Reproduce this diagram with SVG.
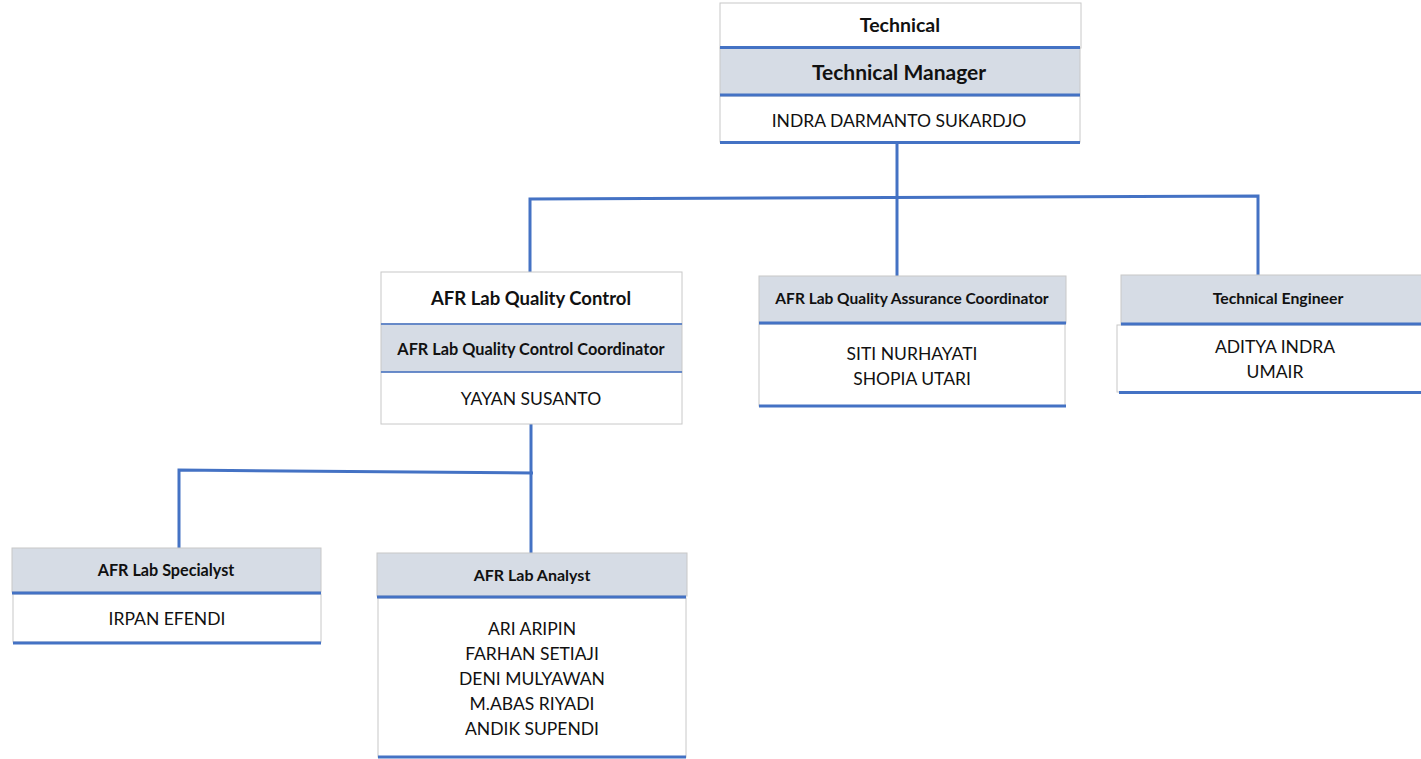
<svg xmlns="http://www.w3.org/2000/svg" width="1421" height="759" viewBox="0 0 1421 759">
<style>
.w{fill:#ffffff;stroke:#c8c8c8;stroke-width:1}
.g{fill:#d6dce5;stroke:#c8c8c8;stroke-width:1}
.bl{stroke:#4472c4;stroke-width:3;fill:none}
.bt{stroke:#4472c4;stroke-width:1.5;fill:none}
.c{stroke:#4472c4;stroke-width:3;fill:none}
text{font-family:Lato,"Open Sans","Liberation Sans",sans-serif;fill:#111;text-anchor:middle;dominant-baseline:central}
.n{font-size:17.5px}
.b{font-weight:bold}
</style>
<g id="connectors">
<path class="c" d="M897 143 V276"/>
<path class="c" d="M530 272 V199 L1258 196 V276"/>
<path class="c" d="M531 424 V553"/>
<path class="c" d="M179 548 V470 L533 473"/>
</g>
<g id="technical">
<rect class="w" x="720" y="3" width="361" height="45"/>
<rect class="g" x="720" y="48" width="360" height="47"/>
<rect class="w" x="720" y="96" width="360" height="46"/>
<path class="bl" d="M720 47.5 H1080 M720 95 H1080 M720 142.5 H1080"/>
<text class="b" x="900" y="24" style="font-size:19.5px">Technical</text>
<text class="b" x="899" y="71" style="font-size:21px">Technical Manager</text>
<text class="n" x="899" y="120">INDRA DARMANTO SUKARDJO</text>
</g>
<g id="qc">
<rect class="w" x="381" y="272" width="301" height="52"/>
<rect class="g" x="381" y="324" width="301" height="48"/>
<rect class="w" x="381" y="372" width="301" height="52"/>
<path class="bt" d="M381 324 H682 M381 372 H682"/>
<text class="b" x="531" y="298" style="font-size:18.5px">AFR Lab Quality Control</text>
<text class="b" x="531" y="348" style="font-size:16.3px">AFR Lab Quality Control Coordinator</text>
<text class="n" x="531" y="398">YAYAN SUSANTO</text>
</g>
<g id="qa">
<rect class="g" x="759" y="276" width="307" height="47"/>
<rect class="w" x="759" y="324" width="306" height="82"/>
<path class="bl" d="M759 323 H1066 M759 406 H1066"/>
<text class="b" x="912" y="298" style="font-size:15.5px">AFR Lab Quality Assurance Coordinator</text>
<text class="n" x="912" y="353">SITI NURHAYATI</text>
<text class="n" x="912" y="378">SHOPIA UTARI</text>
</g>
<g id="te">
<rect class="g" x="1121" y="275" width="302" height="49"/>
<rect class="w" x="1117" y="325" width="306" height="67"/>
<path class="bl" d="M1121 324 H1421 M1119 392.5 H1421"/>
<text class="b" x="1278" y="297" style="font-size:15.8px">Technical Engineer</text>
<text class="n" x="1275" y="346">ADITYA INDRA</text>
<text class="n" x="1275" y="371">UMAIR</text>
</g>
<g id="specialist">
<rect class="g" x="12" y="548" width="309" height="44"/>
<rect class="w" x="13" y="594" width="308" height="48"/>
<path class="bl" d="M12 593 H321 M13 643 H321"/>
<text class="b" x="166" y="569" style="font-size:16.2px">AFR Lab Specialyst</text>
<text class="n" x="167" y="618">IRPAN EFENDI</text>
</g>
<g id="analyst">
<rect class="g" x="377" y="553" width="310" height="43"/>
<rect class="w" x="378" y="598" width="308" height="159"/>
<path class="bl" d="M377 597 H686 M378 757 H686"/>
<text class="b" x="532" y="574" style="font-size:16px">AFR Lab Analyst</text>
<text class="n" x="532" y="628">ARI ARIPIN</text>
<text class="n" x="532" y="653">FARHAN SETIAJI</text>
<text class="n" x="532" y="678">DENI MULYAWAN</text>
<text class="n" x="532" y="703">M.ABAS RIYADI</text>
<text class="n" x="532" y="728">ANDIK SUPENDI</text>
</g>
</svg>
